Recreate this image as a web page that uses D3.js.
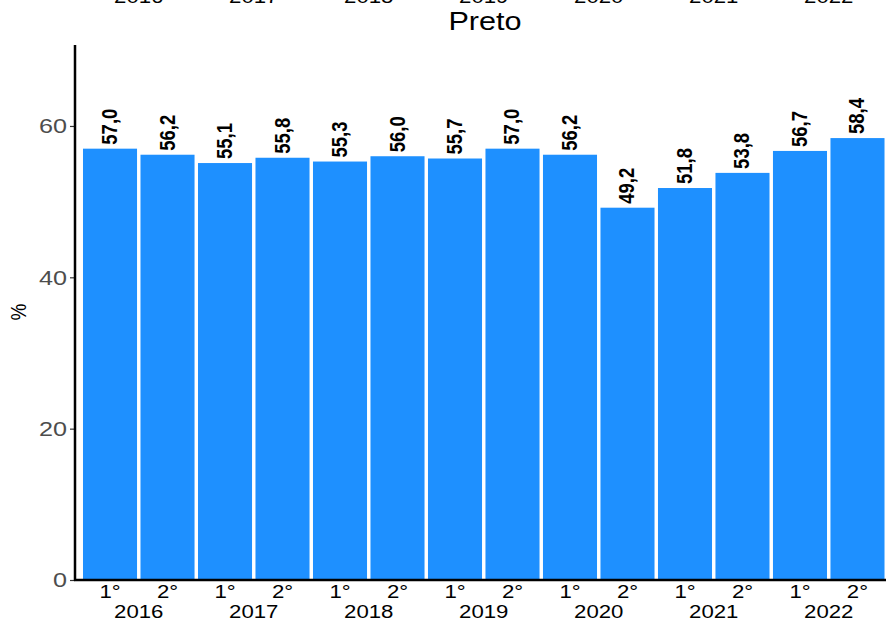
<!DOCTYPE html>
<html>
<head>
<meta charset="utf-8">
<script src="https://cdn.jsdelivr.net/npm/d3@7"></script>
<style>
  html, body { margin: 0; padding: 0; background: #ffffff; }
  svg { display: block; font-family: "Liberation Sans", Arial, sans-serif; }
</style>
</head>
<body>
<svg id="chart" width="886" height="622"></svg>
<script>
// Share (%) by semester, panel "Preto"
const years = ["2016", "2017", "2018", "2019", "2020", "2021", "2022"];
const semesters = ["1°", "2°"];
const values = [57.0, 56.2, 55.1, 55.8, 55.3, 56.0, 55.7, 57.0, 56.2, 49.2, 51.8, 53.8, 56.7, 58.4];
const yTicks = [0, 20, 40, 60];
const panelTitle = "Preto";
const yLabel = "%";

const rows = values.map((v, i) => ({
  key: years[Math.floor(i / 2)] + "-" + semesters[i % 2],
  year: years[Math.floor(i / 2)],
  sem: semesters[i % 2],
  value: v
}));

const svg = d3.select("#chart");
const plotLeft = 75, plotRight = 892.5, plotTop = 45, plotBottom = 580;
const SX = 1.2; // wide text rendering

const x = d3.scaleBand()
  .domain(rows.map(d => d.key))
  .range([plotLeft, plotRight])
  .paddingInner(0.06)
  .paddingOuter(0.139);

const y = d3.scaleLinear().domain([0, 70.7]).range([plotBottom, plotTop]);

const yearCenter = yr => {
  const k1 = yr + "-" + semesters[0], k2 = yr + "-" + semesters[1];
  return (x(k1) + x(k2) + x.bandwidth()) / 2;
};

const wide = (px, py) => `translate(${px},${py}) scale(${SX},1)`;

// Year strip labels of the panel above (partly outside the view)
svg.append("g").selectAll("text").data(years).join("text")
  .attr("transform", d => wide(yearCenter(d), 3))
  .attr("text-anchor", "middle")
  .attr("font-size", 18.5)
  .attr("fill", "#000")
  .text(d => d);

// Title
svg.append("text")
  .attr("transform", wide(485, 30))
  .attr("text-anchor", "middle")
  .attr("font-size", 25.5)
  .attr("fill", "#000")
  .text(panelTitle);

// Bars
svg.append("g").selectAll("rect").data(rows).join("rect")
  .attr("x", d => x(d.key))
  .attr("y", d => y(d.value))
  .attr("width", x.bandwidth())
  .attr("height", d => y(0) - y(d.value))
  .attr("fill", "#1E90FF");

// Value labels, rotated
svg.append("g").selectAll("text").data(rows).join("text")
  .attr("transform", d => `translate(${x(d.key) + x.bandwidth() / 2 + 7},${y(d.value) - 4}) scale(${SX},1) rotate(-90)`)
  .attr("text-anchor", "start")
  .attr("font-size", 18.5)
  .attr("font-weight", "bold")
  .attr("fill", "#000")
  .text(d => d.value.toFixed(1).replace(".", ","));

// Y axis
const yAxis = svg.append("g")
  .attr("transform", `translate(${plotLeft},0)`)
  .call(d3.axisLeft(y).tickValues(yTicks).tickSize(5).tickPadding(0));
yAxis.select(".domain").remove();
yAxis.selectAll(".tick line").attr("stroke", "#333").attr("stroke-width", 1.2);
yAxis.selectAll(".tick text")
  .attr("x", null)
  .attr("transform", `translate(-8,0) scale(${SX},1)`)
  .attr("font-size", 21)
  .attr("fill", "#4D4D4D")
  .attr("font-family", "'Liberation Sans', Arial, sans-serif");

// Axis lines
svg.append("line")
  .attr("x1", plotLeft).attr("x2", plotLeft)
  .attr("y1", plotTop).attr("y2", plotBottom + 1)
  .attr("stroke", "#000").attr("stroke-width", 2.5);
svg.append("line")
  .attr("x1", plotLeft - 1).attr("x2", 886)
  .attr("y1", plotBottom).attr("y2", plotBottom)
  .attr("stroke", "#000").attr("stroke-width", 2.5);

// Y axis title
svg.append("text")
  .attr("transform", `translate(26,312) scale(${SX},1) rotate(-90)`)
  .attr("text-anchor", "middle")
  .attr("font-size", 19)
  .attr("fill", "#000")
  .text(yLabel);

// Semester labels
svg.append("g").selectAll("text").data(rows).join("text")
  .attr("transform", d => wide(x(d.key) + x.bandwidth() / 2, 598))
  .attr("text-anchor", "middle")
  .attr("font-size", 18.5)
  .attr("fill", "#000")
  .text(d => d.sem);

// Year labels
svg.append("g").selectAll("text").data(years).join("text")
  .attr("transform", d => wide(yearCenter(d), 618))
  .attr("text-anchor", "middle")
  .attr("font-size", 18.5)
  .attr("fill", "#000")
  .text(d => d);
</script>
</body>
</html>
